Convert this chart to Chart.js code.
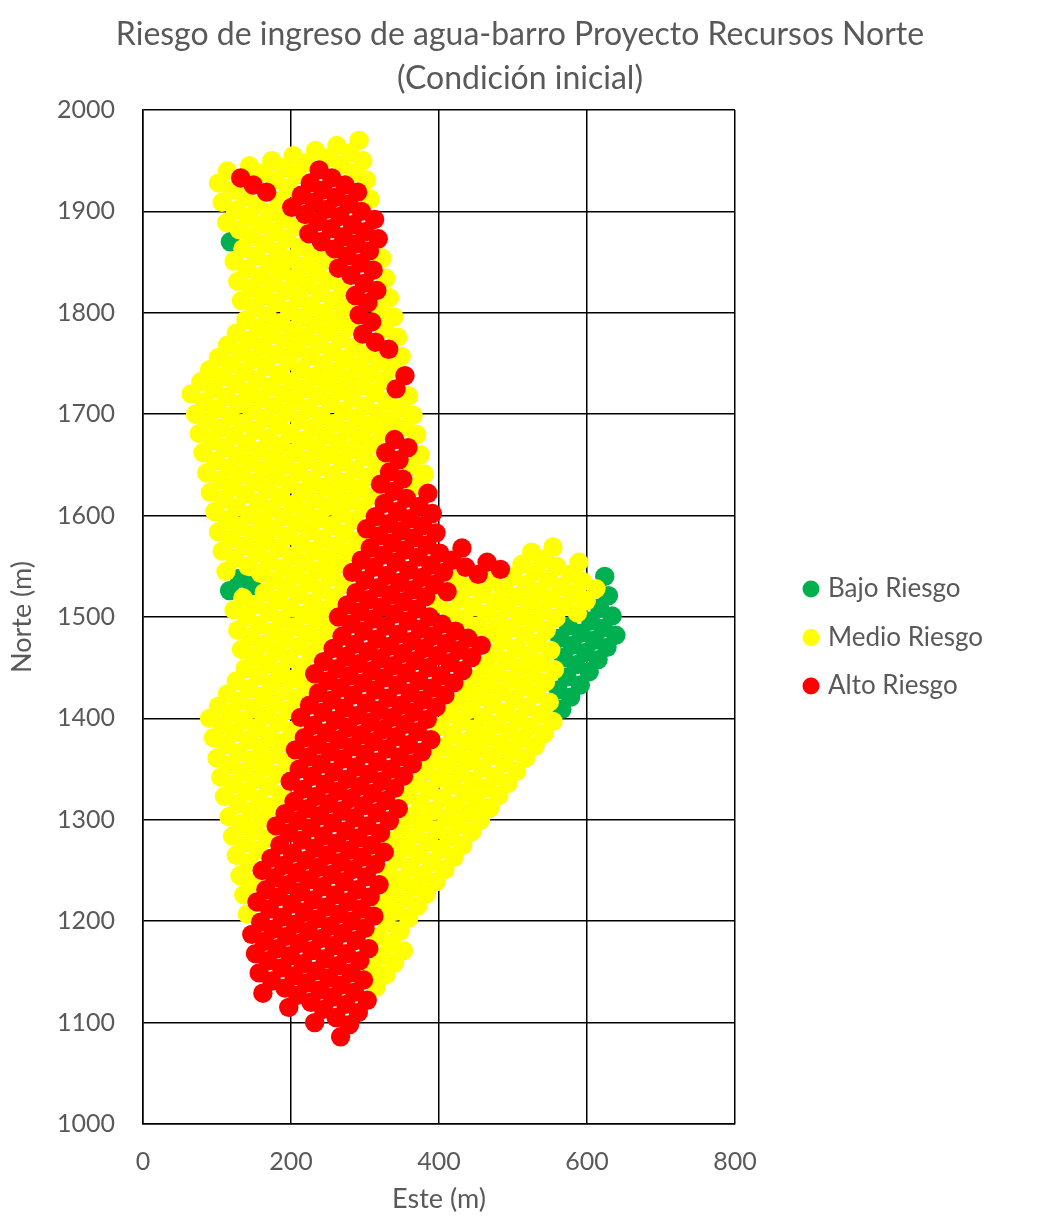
<!DOCTYPE html>
<html lang="es">
<head>
<meta charset="utf-8">
<title>Riesgo de ingreso de agua-barro</title>
<style>html,body{margin:0;padding:0;background:#fff}canvas{display:block}</style>
<script src="https://cdn.jsdelivr.net/npm/chart.js@4/dist/chart.umd.min.js"></script>
</head>
<body>
<canvas id="c" width="1040" height="1218"></canvas>
<script>
const seriesNames = ["Bajo Riesgo", "Medio Riesgo", "Alto Riesgo"];
const seriesColors = ["#00B050", "#FFFF00", "#FF0000"];
const xTicks = [0, 200, 400, 600, 800];
const yTicks = [1000, 1100, 1200, 1300, 1400, 1500, 1600, 1700, 1800, 1900, 2000];
const chartTitle = ["Riesgo de ingreso de agua-barro Proyecto Recursos Norte", "(Condición inicial)"];

const bajo = [[117,1526],[130,1538],[147,1531],[118,1870],[566,1409],[561,1428],[578,1421],[573,1441],[591,1433],
[568,1460],[585,1453],[603,1446],[563,1479],[580,1472],[598,1465],[615,1458],[575,1491],[592,1484],[610,1477],[627,1470],
[605,1496],[622,1489],[639,1482],[617,1509],[634,1501],[629,1521],[624,1540]];

const medio = [
[141,1207],[315,1135],
[136,1226],[310,1154],[328,1147],
[131,1245],[148,1238],[322,1166],[340,1159],
[126,1265],[143,1257],[317,1185],[335,1178],[352,1171],
[121,1284],[138,1277],[155,1270],[329,1198],[347,1190],
[116,1303],[133,1296],[150,1289],[168,1282],[324,1217],[342,1210],[359,1203],
[110,1323],[128,1316],[145,1308],[162,1301],[336,1229],[354,1222],[371,1215],
[105,1342],[122,1335],[140,1328],[157,1320],[175,1313],[331,1248],[349,1241],[366,1234],[383,1227],
[100,1361],[117,1354],[135,1347],[152,1340],[169,1333],[187,1325],[343,1261],[361,1253],[378,1246],[396,1239],
[95,1381],[112,1374],[129,1366],[147,1359],[164,1352],[182,1345],[338,1280],[356,1273],[373,1266],[390,1258],[408,1251],
[90,1400],[107,1393],[124,1386],[142,1379],[159,1371],[176,1364],[194,1357],[350,1292],[368,1285],[385,1278],[403,1271],[420,1263],
[102,1412],[119,1405],[136,1398],[154,1391],[171,1383],[189,1376],[363,1304],[380,1297],[397,1290],[415,1283],[432,1275],
[114,1424],[131,1417],[149,1410],[166,1403],[183,1396],[201,1388],[357,1324],[375,1316],[392,1309],[410,1302],[427,1295],[444,1288],
[126,1437],[143,1429],[161,1422],[178,1415],[196,1408],[370,1336],[387,1329],[404,1321],[422,1314],[439,1307],[456,1300],
[138,1449],[156,1442],[173,1434],[190,1427],[208,1420],[382,1348],[399,1341],[417,1334],[434,1326],[451,1319],[469,1312],
[133,1468],[150,1461],[168,1454],[185,1446],[203,1439],[220,1432],[394,1360],[411,1353],[429,1346],[446,1338],[463,1331],[481,1324],
[128,1487],[145,1480],[163,1473],[180,1466],[197,1459],[215,1451],[406,1372],[424,1365],[441,1358],[458,1351],[476,1343],[493,1336],
[123,1507],[140,1500],[157,1492],[175,1485],[192,1478],[210,1471],[227,1464],[401,1392],[418,1384],[436,1377],[453,1370],[470,1363],[488,1356],[505,1348],
[135,1519],[152,1512],[170,1505],[187,1497],[204,1490],[222,1483],[239,1476],[413,1404],[430,1397],[448,1389],[465,1382],[483,1375],[500,1368],[517,1361],
[112,1545],[164,1524],[182,1517],[199,1509],[217,1502],[234,1495],[251,1488],[425,1416],[443,1409],[460,1401],[477,1394],[495,1387],[512,1380],[530,1373],
[107,1565],[124,1558],[142,1550],[159,1543],[177,1536],[194,1529],[211,1522],[229,1514],[246,1507],[437,1428],[455,1421],[472,1414],[490,1406],[507,1399],[524,1392],[542,1385],
[102,1584],[119,1577],[137,1570],[154,1563],[171,1555],[189,1548],[206,1541],[224,1534],[241,1527],[258,1519],[450,1440],[467,1433],[484,1426],[502,1419],[519,1411],[537,1404],[554,1397],
[97,1604],[114,1596],[131,1589],[149,1582],[166,1575],[184,1568],[201,1560],[218,1553],[236,1546],[253,1539],[271,1532],[462,1452],[479,1445],[497,1438],[514,1431],[531,1424],[549,1416],
[91,1623],[109,1616],[126,1608],[144,1601],[161,1594],[178,1587],[196,1580],[213,1572],[231,1565],[248,1558],[265,1551],[474,1464],[491,1457],[509,1450],[526,1443],[544,1436],
[86,1642],[104,1635],[121,1628],[138,1621],[156,1613],[173,1606],[191,1599],[208,1592],[225,1585],[243,1577],[260,1570],[278,1563],[399,1513],[417,1505],[434,1498],[451,1491],[469,1484],[486,1477],[504,1469],[521,1462],[538,1455],[556,1448],
[81,1662],[98,1654],[116,1647],[133,1640],[151,1633],[168,1626],[185,1618],[203,1611],[220,1604],[238,1597],[255,1590],[272,1582],[290,1575],[429,1518],[446,1510],[464,1503],[481,1496],[498,1489],[516,1482],[533,1474],[551,1467],
[76,1681],[93,1674],[111,1667],[128,1659],[145,1652],[163,1645],[180,1638],[198,1631],[215,1623],[232,1616],[250,1609],[267,1602],[285,1595],[424,1537],[441,1530],[458,1523],[476,1515],[493,1508],[511,1501],[528,1494],[545,1487],
[71,1700],[88,1693],[105,1686],[123,1679],[140,1671],[158,1664],[175,1657],[192,1650],[210,1643],[227,1635],[245,1628],[262,1621],[279,1614],[297,1607],[471,1535],[488,1527],[505,1520],[523,1513],[540,1506],[558,1499],
[65,1720],[83,1712],[100,1705],[118,1698],[135,1691],[152,1684],[170,1676],[187,1669],[205,1662],[222,1655],[239,1648],[257,1640],[274,1633],[292,1626],[309,1619],[500,1540],[518,1532],[535,1525],[552,1518],[570,1511],[587,1504],
[78,1732],[95,1725],[112,1717],[130,1710],[147,1703],[165,1696],[182,1689],[199,1681],[217,1674],[234,1667],[252,1660],[269,1653],[286,1645],[304,1638],[512,1552],[530,1545],[547,1537],[565,1530],[582,1523],[599,1516],
[90,1744],[107,1737],[125,1730],[142,1722],[159,1715],[177,1708],[194,1701],[212,1694],[229,1686],[246,1679],[264,1672],[281,1665],[299,1658],[316,1650],[368,1629],[525,1564],[542,1557],[559,1550],[577,1542],[594,1535],[612,1528],
[102,1756],[119,1749],[137,1742],[154,1734],[172,1727],[189,1720],[206,1713],[224,1706],[241,1698],[259,1691],[276,1684],[293,1677],[311,1670],[363,1648],[380,1641],[554,1569],[589,1554],
[114,1768],[132,1761],[149,1754],[166,1747],[184,1739],[201,1732],[219,1725],[236,1718],[253,1711],[271,1703],[288,1696],[306,1689],[323,1682],[375,1660],
[126,1780],[144,1773],[161,1766],[179,1759],[196,1752],[213,1744],[231,1737],[248,1730],[266,1723],[283,1716],[300,1708],[318,1701],[335,1694],[352,1687],[370,1680],
[139,1793],[156,1785],[173,1778],[191,1771],[208,1764],[226,1757],[243,1749],[260,1742],[278,1735],[295,1728],[313,1721],[330,1713],[347,1706],[365,1699],
[133,1812],[151,1805],[168,1797],[186,1790],[203,1783],[220,1776],[238,1769],[255,1761],[273,1754],[290,1747],[307,1740],[325,1733],[359,1718],
[128,1831],[146,1824],[163,1817],[180,1810],[198,1802],[215,1795],[233,1788],[250,1781],[267,1774],[285,1766],[302,1759],[320,1752],[337,1745],
[123,1851],[140,1843],[158,1836],[175,1829],[193,1822],[210,1815],[227,1807],[245,1800],[262,1793],[280,1786],[349,1757],
[135,1863],[153,1856],[170,1848],[187,1841],[205,1834],[222,1827],[240,1820],[257,1812],[274,1805],[326,1784],[344,1776],
[113,1889],[130,1882],[147,1875],[165,1868],[182,1860],[200,1853],[217,1846],[234,1839],[252,1832],[269,1824],[321,1803],[339,1796],
[107,1909],[125,1901],[142,1894],[160,1887],[177,1880],[194,1873],[212,1865],[229,1858],[247,1851],[333,1815],
[102,1928],[120,1921],[137,1914],[154,1906],[172,1899],[189,1892],[207,1885],[328,1834],
[114,1940],[184,1911],[323,1854],
[144,1945],[161,1938],[179,1931],[196,1923],
[174,1950],[191,1943],[208,1936],
[203,1955],[221,1948],[307,1912],
[233,1960],[250,1953],[268,1946],[285,1938],[302,1931],
[262,1965],[280,1958],[297,1950],
[292,1970]];

const alto = [
[162,1129],[197,1115],[232,1100],[267,1086],
[157,1149],[174,1141],[192,1134],[209,1127],[227,1120],[244,1113],[261,1105],[279,1098],
[152,1168],[169,1161],[187,1154],[204,1146],[221,1139],[239,1132],[256,1125],[274,1118],[291,1110],
[147,1187],[164,1180],[181,1173],[199,1166],[216,1158],[234,1151],[251,1144],[268,1137],[286,1130],[303,1122],
[159,1199],[176,1192],[194,1185],[211,1178],[228,1171],[246,1163],[263,1156],[281,1149],[298,1142],
[154,1219],[171,1212],[188,1204],[206,1197],[223,1190],[241,1183],[258,1176],[275,1168],[293,1161],
[166,1231],[183,1224],[201,1217],[218,1209],[235,1202],[253,1195],[270,1188],[288,1181],[305,1173],
[161,1250],[178,1243],[195,1236],[213,1229],[230,1221],[248,1214],[265,1207],[282,1200],[300,1193],
[173,1262],[190,1255],[208,1248],[225,1241],[242,1234],[260,1226],[277,1219],[295,1212],[312,1205],
[185,1275],[202,1267],[220,1260],[237,1253],[255,1246],[272,1239],[289,1231],[307,1224],
[180,1294],[197,1287],[215,1280],[232,1272],[249,1265],[267,1258],[284,1251],[302,1244],[319,1236],
[192,1306],[209,1299],[227,1292],[244,1284],[262,1277],[279,1270],[296,1263],[314,1256],
[204,1318],[222,1311],[239,1304],[256,1297],[274,1289],[291,1282],[309,1275],[326,1268],
[199,1338],[216,1330],[234,1323],[251,1316],[269,1309],[286,1302],[303,1294],[321,1287],
[211,1350],[229,1343],[246,1335],[263,1328],[281,1321],[298,1314],[316,1307],[333,1299],
[206,1369],[223,1362],[241,1355],[258,1347],[276,1340],[293,1333],[310,1326],[328,1319],[345,1311],
[218,1381],[236,1374],[253,1367],[270,1360],[288,1352],[305,1345],[323,1338],[340,1331],
[213,1401],[230,1393],[248,1386],[265,1379],[283,1372],[300,1365],[317,1357],[335,1350],[352,1343],
[225,1413],[243,1406],[260,1398],[277,1391],[295,1384],[312,1377],[330,1370],[347,1362],[364,1355],
[237,1425],[255,1418],[272,1410],[290,1403],[307,1396],[324,1389],[342,1382],[359,1374],[377,1367],
[232,1444],[250,1437],[267,1430],[284,1423],[302,1415],[319,1408],[337,1401],[354,1394],[371,1387],[389,1379],
[244,1456],[262,1449],[279,1442],[297,1435],[314,1428],[331,1420],[349,1413],[366,1406],[384,1399],
[257,1469],[274,1461],[291,1454],[309,1447],[326,1440],[344,1433],[361,1425],[378,1418],[396,1411],
[269,1481],[286,1473],[304,1466],[321,1459],[338,1452],[356,1445],[373,1437],[391,1430],[408,1423],
[264,1500],[281,1493],[298,1486],[316,1478],[333,1471],[351,1464],[368,1457],[385,1450],[403,1442],[420,1435],
[276,1512],[293,1505],[311,1498],[328,1491],[345,1483],[363,1476],[380,1469],[398,1462],[415,1455],[432,1447],
[288,1524],[305,1517],[323,1510],[340,1503],[358,1496],[375,1488],[392,1481],[410,1474],[427,1467],[444,1460],
[283,1544],[300,1536],[318,1529],[335,1522],[352,1515],[370,1508],[387,1500],[404,1493],[422,1486],[439,1479],[457,1472],
[295,1556],[312,1549],[330,1541],[347,1534],[365,1527],[382,1520],
[307,1568],[325,1561],[342,1554],[359,1546],[377,1539],[394,1532],[411,1525],
[302,1587],[319,1580],[337,1573],[354,1566],[372,1559],[389,1551],[406,1544],
[314,1599],[332,1592],[349,1585],[366,1578],[384,1571],[401,1563],[418,1556],[436,1549],[453,1542],
[326,1612],[344,1604],[361,1597],[378,1590],[396,1583],[431,1568],[465,1554],[483,1547],
[321,1631],[339,1624],[356,1617],[373,1609],[391,1602],
[333,1643],[351,1636],[385,1622],
[328,1662],[346,1655],
[340,1675],[358,1667],
[342,1725],
[354,1738],
[297,1779],[314,1771],[332,1764],
[292,1798],[309,1791],
[287,1817],[304,1810],
[264,1844],[281,1837],[299,1829],[316,1822],
[224,1878],[241,1870],[259,1863],[276,1856],[294,1849],[311,1842],
[132,1933],[149,1926],[167,1919],[201,1904],[219,1897],[236,1890],[254,1883],[271,1875],[288,1868],[306,1861],
[214,1916],[231,1909],[248,1902],[266,1895],[283,1887],[300,1880],[318,1873],
[226,1928],[243,1921],[261,1914],[278,1907],[295,1900],[313,1892],
[238,1941],[255,1933],[273,1926],[290,1919]];

const toXY = pts => pts.map(p => ({x: p[0], y: p[1]}));
const textColor = "#595959";
const face = "Lato, 'Open Sans', sans-serif";

const placeBlocks = {
  id: "placeBlocks",
  beforeDraw(chart) {
    chart.titleBlock.left = 0;
    chart.titleBlock.right = 1040;
    chart.legend.left = 784.5;
    chart.legend.right = 1040;
    chart.legend.top = 553.5;
    chart.legend.bottom = 760;
  }
};

new Chart(document.getElementById("c"), {
  type: "scatter",
  plugins: [placeBlocks],
  data: {
    datasets: [
      {label: seriesNames[0], data: toXY(bajo), backgroundColor: seriesColors[0], order: 3},
      {label: seriesNames[1], data: toXY(medio), backgroundColor: seriesColors[1], order: 2},
      {label: seriesNames[2], data: toXY(alto), backgroundColor: seriesColors[2], order: 1}
    ]
  },
  options: {
    responsive: false,
    animation: false,
    devicePixelRatio: 1,
    layout: {padding: {left: 0, right: 105, top: 0, bottom: 0}},
    elements: {point: {radius: 9.7, borderWidth: 0, hoverRadius: 9.7}},
    plugins: {
      tooltip: {enabled: false},
      title: {
        display: true, text: chartTitle, color: textColor,
        font: {family: face, size: 32, weight: "normal", lineHeight: 1.375},
        padding: {top: 13, bottom: 9}
      },
      legend: {
        display: true, position: "right", align: "start", maxWidth: 200,
        labels: {
          color: textColor, usePointStyle: true, pointStyle: "circle",
          boxWidth: 8, boxHeight: 12, padding: 22.5,
          sort: (a, b) => a.datasetIndex - b.datasetIndex,
          font: {family: face, size: 26}
        }
      }
    },
    scales: {
      x: {
        type: "linear", min: 0, max: 800,
        afterFit: s => { s.height = 94; },
        afterBuildTicks: s => { s.ticks = xTicks.map(v => ({value: v})); },
        grid: {color: "#000", lineWidth: 1.5, drawTicks: false},
        border: {color: "#000", width: 1.5},
        ticks: {color: textColor, padding: 23, maxRotation: 0, callback: v => String(v), font: {family: face, size: 25}},
        title: {display: true, text: "Este (m)", color: textColor, font: {family: face, size: 27}, padding: {top: 4, bottom: 2.5}}
      },
      y: {
        type: "linear", min: 1000, max: 2000,
        afterFit: s => { s.width = 143; },
        afterBuildTicks: s => { s.ticks = yTicks.map(v => ({value: v})); },
        grid: {color: "#000", lineWidth: 1.5, drawTicks: false},
        border: {color: "#000", width: 1.5},
        ticks: {color: textColor, padding: 28, callback: v => String(v), font: {family: face, size: 25}},
        title: {display: true, text: "Norte (m)", color: textColor, font: {family: face, size: 27}, padding: {top: 6, bottom: 2}}
      }
    }
  }
});
</script>
</body>
</html>
